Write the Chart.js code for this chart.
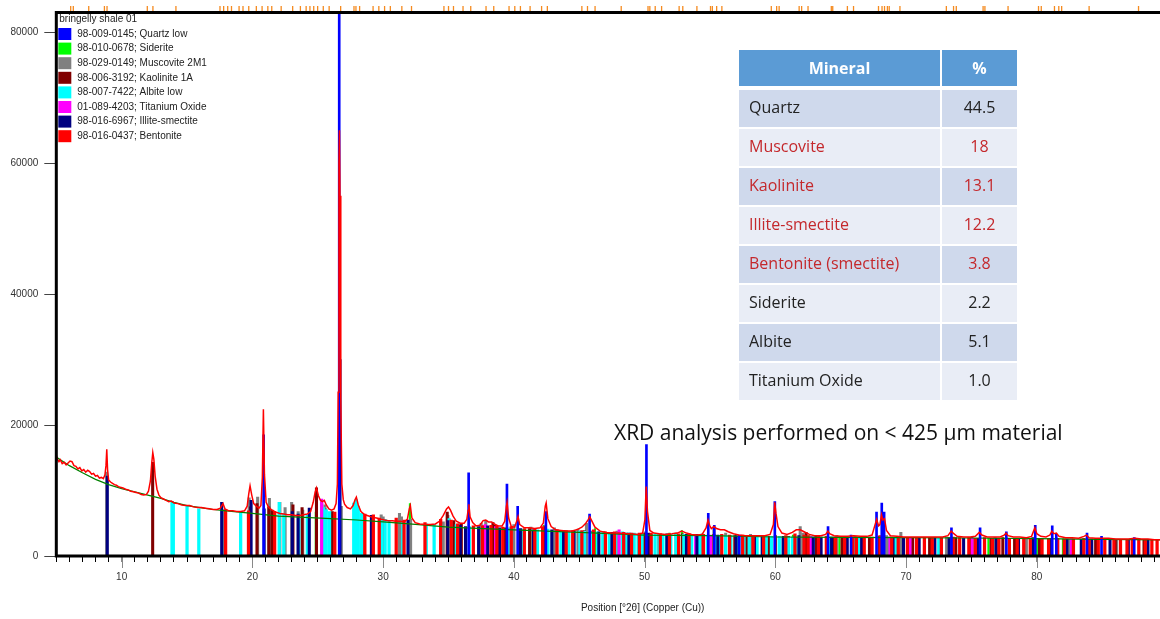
<!DOCTYPE html>
<html>
<head>
<meta charset="utf-8">
<script src="https://cdn.jsdelivr.net/npm/chart.js@4.4.1/dist/chart.umd.min.js"></script>
<style>
html,body{margin:0;padding:0;background:#fff;overflow:hidden;}
#wrap{position:relative;width:1160px;height:619px;overflow:hidden;}
#grafico{position:absolute;left:0;top:0;}
#tabela{position:absolute;left:739px;top:50px;border-collapse:separate;border-spacing:0;font-family:"Open Sans",sans-serif;font-size:16px;}
#tabela th{background:#5b9bd5;color:#fff;font-weight:bold;height:36px;padding:0;border-bottom:4px solid #fff;}
#tabela td{height:34px;padding:0 0 3px 0;border-bottom:2px solid #fff;color:#222;}
#tabela td.nome{width:191px;padding-left:10px;}
#tabela td.valor,#tabela th.valor{width:75px;text-align:center;border-left:2px solid #fff;}
#tabela tr.escuro td{background:#cfd9ec;}
#tabela tr.claro td{background:#e9edf6;}
#tabela td.destaque{color:#c4282c;}
#nota{position:absolute;left:614px;top:419px;font-family:"Open Sans",sans-serif;font-size:21px;color:#111;white-space:nowrap;line-height:26px;}
</style>
</head>
<body>
<div id="wrap">
<canvas id="grafico" width="1232" height="619"></canvas>
<table id="tabela">
<thead><tr><th>Mineral</th><th class="valor">%</th></tr></thead>
<tbody></tbody>
</table>
<div id="nota">XRD analysis performed on &lt; 425 μm material</div>
</div>
<script>
// eixos
const xMin = 5, xMax = 94.7, yMax = 83000;
const xLabels = [10,20,30,40,50,60,70,80,90];
const yTicks = [0,20000,40000,60000,80000];

// tabela de minerais
const minerais = ['Quartz','Muscovite','Kaolinite','Illite-smectite','Bentonite (smectite)','Siderite','Albite','Titanium Oxide'];
const percentuais = ['44.5','18','13.1','12.2','3.8','2.2','5.1','1.0'];
const destacados = [false,true,true,true,true,false,false,false];

// fases de referencia
const fases = ['98-009-0145; Quartz low','98-010-0678; Siderite','98-029-0149; Muscovite 2M1','98-006-3192; Kaolinite 1A','98-007-7422; Albite low','01-089-4203; Titanium Oxide','98-016-6967; Illite-smectite','98-016-0437; Bentonite'];
const coresFases = ['#0000ff','#00ff00','#808080','#800000','#00ffff','#ff00ff','#000080','#ff0000'];
const ordemFases = [1,9,8,7,6,5,4,3];
const espessura = [2,1.5,2.4,2.4,2.6,2.4,2.4,2.6];

// padrao medido [2theta, contagens]
const medido = [
[5.0,15400],[5.1,14700],[5.2,14400],[5.3,14700],[5.45,14100],[5.6,14300],[5.75,13900],[5.9,14200],[6.05,14500],[6.2,14400],[6.35,13800],[6.5,13700],[6.65,13300],[6.8,13500],[6.95,13000],[7.1,13200],[7.25,12800],[7.4,13100],[7.55,12900],[7.7,12500],[7.85,12600],[8.0,12200],[8.15,12300],[8.3,11900],[8.45,12000],[8.6,11800],[8.72,12400],[8.8,13800],[8.86,16300],[8.92,13200],[9.0,11600],[9.15,11300],[9.3,11100],[9.45,10900],[9.6,10800],[9.75,10600],[9.9,10500],[10.1,10400],[10.3,10200],[10.5,10100],[10.7,9900],[10.9,9800],[11.1,9700],[11.3,9600],[11.5,9400],[11.7,9300],[11.9,9400],[12.05,9900],[12.2,11500],[12.3,14200],[12.38,15800],[12.46,14800],[12.56,12200],[12.7,10200],[12.85,9300],[13.0,8900],[13.2,8700],[13.4,8500],[13.6,8300],[13.8,8400],[14.0,8100],[14.3,8000],[14.6,7800],[14.9,7700],[15.2,7700],[15.5,7500],[15.8,7400],[16.1,7400],[16.4,7300],[16.7,7200],[17.0,7100],[17.3,7100],[17.55,7300],[17.75,8000],[17.9,7200],[18.2,6900],[18.5,6900],[18.8,6800],[19.1,6800],[19.4,6900],[19.6,7600],[19.72,9500],[19.82,10700],[19.95,9300],[20.1,8000],[20.3,7600],[20.5,7300],[20.65,7700],[20.76,12000],[20.84,22400],[20.92,12500],[21.05,8200],[21.25,7400],[21.5,7000],[21.8,6700],[22.1,6500],[22.4,6400],[22.7,6300],[23.0,6300],[23.3,6200],[23.6,6200],[23.9,6300],[24.2,6400],[24.45,6800],[24.65,8200],[24.8,9800],[24.9,10400],[25.05,9200],[25.2,8500],[25.35,8300],[25.5,8500],[25.65,7800],[25.85,7200],[26.05,7000],[26.25,7200],[26.4,8000],[26.5,11000],[26.56,25000],[26.62,60000],[26.66,65000],[26.7,55000],[26.76,24000],[26.84,11000],[26.95,8600],[27.05,7900],[27.25,7400],[27.5,7200],[27.7,7700],[27.85,8600],[27.95,9000],[28.1,7800],[28.3,6800],[28.6,6300],[28.9,6100],[29.2,5900],[29.5,5800],[29.8,5600],[30.1,5500],[30.4,5400],[30.7,5400],[31.0,5300],[31.3,5300],[31.6,5200],[31.85,5600],[32.0,7200],[32.08,7700],[32.2,5800],[32.45,5100],[32.8,4900],[33.2,4800],[33.6,4800],[34.0,4900],[34.3,5300],[34.6,6200],[34.85,7200],[35.0,7500],[35.15,7000],[35.35,6100],[35.6,5300],[35.9,5000],[36.2,5000],[36.4,5600],[36.5,7000],[36.56,7900],[36.65,6000],[36.85,5100],[37.1,4600],[37.4,4700],[37.65,5400],[37.85,5500],[38.05,5200],[38.3,5200],[38.5,4900],[38.8,4600],[39.1,4600],[39.3,5300],[39.42,7500],[39.48,8200],[39.6,5800],[39.8,4500],[40.05,4400],[40.25,5500],[40.32,6000],[40.45,4800],[40.8,4300],[41.2,4300],[41.6,4200],[42.0,4300],[42.25,5000],[42.4,7600],[42.47,8100],[42.6,5700],[42.85,4500],[43.2,4000],[43.6,3900],[44.0,3800],[44.4,3800],[44.8,4000],[45.2,4400],[45.5,5000],[45.7,5600],[45.8,6000],[45.95,5400],[46.2,4400],[46.6,3800],[47.0,3600],[47.5,3500],[48.0,3500],[48.5,3400],[49.0,3400],[49.5,3300],[49.85,3500],[50.02,5500],[50.12,10600],[50.22,6800],[50.4,3900],[50.7,3500],[51.1,3400],[51.6,3300],[52.1,3400],[52.5,3500],[52.85,3800],[53.2,3500],[53.6,3300],[54.0,3200],[54.4,3300],[54.7,4300],[54.85,5500],[54.97,4700],[55.1,4200],[55.3,4500],[55.5,4200],[55.8,4000],[56.1,4000],[56.4,3700],[56.8,3400],[57.2,3200],[57.7,3100],[58.2,3100],[58.7,3100],[59.2,3100],[59.6,3300],[59.85,4800],[59.95,8200],[60.05,6500],[60.2,4500],[60.5,3500],[60.9,3300],[61.3,3600],[61.6,4000],[61.9,4000],[62.2,3700],[62.6,3300],[63.0,3100],[63.5,3100],[63.85,3300],[64.02,3800],[64.15,3400],[64.5,3100],[65.0,3000],[65.5,3000],[66.0,3100],[66.5,3000],[67.0,3000],[67.4,3200],[67.6,4600],[67.75,5600],[67.9,4600],[68.0,4800],[68.12,6300],[68.22,5500],[68.35,5700],[68.5,3900],[68.8,3100],[69.3,3000],[69.8,2900],[70.3,2900],[70.8,2900],[71.3,2900],[71.8,2900],[72.3,2900],[72.8,2900],[73.2,3100],[73.45,3800],[73.6,3500],[73.9,3000],[74.4,2900],[74.9,2900],[75.3,3000],[75.6,3600],[75.8,3200],[76.2,2900],[76.7,2900],[77.2,2900],[77.5,3200],[77.65,3500],[77.8,3100],[78.2,2900],[78.7,2900],[79.2,2800],[79.6,3000],[79.85,4300],[80.0,3400],[80.3,3000],[80.7,2900],[81.0,3200],[81.15,3800],[81.3,3400],[81.5,3500],[81.7,3000],[82.2,2800],[82.7,2800],[83.2,2700],[83.6,3000],[83.8,3200],[84.0,2800],[84.5,2700],[85.0,2700],[85.5,2700],[86.0,2600],[86.5,2600],[87.0,2600],[87.5,2700],[88.0,2600],[88.5,2600],[89.0,2500],[89.5,2500],[90.0,2500]
];

// fundo (linha verde)
const fundo = [[5,15100],[6,13800],[7,12700],[8,11700],[9,10900],[10,10300],[11,9800],[12,9300],[13,8800],[14,8200],[15,7700],[16,7400],[17,7100],[18,6900],[19,6700],[20,6500],[22,6100],[24,5900],[26,5700],[28,5500],[30,5200],[32,4900],[35,4400],[40,4000],[45,3600],[50,3200],[55,3100],[60,2900],[65,2850],[70,2800],[75,2750],[80,2650],[85,2550],[90,2450]];

// picos marcados no topo
const picosTopo = [6.1,6.3,7.48,8.68,8.88,11.96,12.39,14.15,17.52,17.8,18.11,18.4,18.98,19.28,19.72,20.3,20.74,21.18,21.48,22.2,23.08,23.67,24.11,24.4,24.69,24.99,25.42,25.87,26.75,27.77,27.92,28.2,29.23,29.67,30.11,30.55,31.43,32.17,34.65,35.0,35.38,36.11,36.7,37.87,38.46,39.63,40.07,40.5,41.24,42.12,42.56,45.2,45.63,46.21,48.21,50.26,50.4,50.81,51.3,52.64,52.92,54.0,55.04,55.18,55.51,55.91,59.69,60.1,60.29,61.82,62.01,62.5,64.28,64.39,65.51,65.98,67.89,68.16,68.35,68.57,68.71,69.53,73.08,73.63,73.84,75.89,76.03,77.8,80.13,80.34,81.35,81.68,81.9,84.0,87.78];

// linhas de referencia [2theta, altura]
const quartzo = [[20.86,18500],[26.64,90000],[36.54,12700],[39.47,11000],[40.29,7600],[42.45,6800],[45.79,6400],[50.14,17000],[54.87,6500],[55.33,4700],[57.24,3200],[59.96,8300],[64.03,4500],[65.79,3200],[67.74,6700],[68.14,8100],[68.32,6700],[73.47,4300],[75.66,4300],[77.67,3700],[79.88,4700],[81.18,4600],[81.49,3300],[83.84,3500],[84.95,3000],[87.45,2800]];
const siderita = [[24.85,6700],[32.05,8000],[38.35,4600],[42.3,4700],[46.2,4200],[51.9,3500],[52.85,3900],[53.6,3300],[61.35,3200],[62.6,3100],[64.9,3000],[68.7,2900],[70.5,2800],[76.3,2700],[80.0,2700],[82.0,2600],[88.5,2500]];
const muscovita = [[8.85,12800],[17.75,7100],[19.75,8900],[20.4,9000],[21.3,8800],[22.1,8200],[22.5,7400],[23.0,8200],[23.5,6800],[23.85,7000],[25.3,8500],[25.55,7800],[26.1,6700],[26.8,7600],[27.85,7500],[28.4,6300],[29.85,6300],[30.0,6000],[31.25,6500],[31.4,6000],[32.1,5600],[34.6,5200],[34.95,6200],[35.8,4900],[37.5,5000],[37.85,5400],[40.0,4800],[41.3,4400],[42.4,4700],[43.1,4300],[44.9,4100],[45.55,5000],[47.9,3800],[50.05,3700],[52.4,3500],[54.4,3400],[55.3,4400],[56.2,3500],[58.1,3300],[61.9,4500],[62.1,3500],[64.7,3100],[66.1,3000],[68.5,3100],[69.6,3600],[73.1,2900],[75.1,2800],[76.8,2800],[79.2,2700],[82.5,2600],[86.1,2500]];
const caulinita = [[12.37,14300],[19.85,7500],[20.35,8000],[21.25,7500],[21.5,7000],[23.1,7800],[23.8,7400],[24.9,10400],[25.55,7200],[26.1,6800],[34.9,6700],[35.4,5400],[35.98,4900],[37.7,4600],[38.4,5100],[38.55,4700],[39.3,4300],[41.2,4200],[42.4,4500],[45.4,3900],[45.9,3800],[46.9,3700],[48.6,3500],[50.0,3500],[51.1,3300],[52.9,3400],[54.1,3200],[55.3,3300],[56.9,3100],[57.8,3100],[59.5,3000],[60.0,3100],[61.0,3000],[62.35,3600],[63.1,3000],[64.5,2900],[65.1,2900],[67.2,2900],[70.5,2800],[71.8,2800],[73.8,2800],[75.0,2800],[76.5,2700],[77.4,2800],[78.3,2700],[80.2,2700],[82.7,2600],[84.5,2600],[86.0,2500],[88.2,2500]];
const albita = [[13.85,8300],[13.95,8200],[15.0,7700],[15.9,7200],[19.1,6600],[22.05,8200],[22.4,6400],[23.55,6400],[24.2,6200],[25.45,7400],[25.65,7100],[25.9,6800],[27.75,8100],[27.95,8600],[28.1,7600],[28.35,6500],[29.9,5500],[30.15,5600],[30.45,5400],[31.5,5200],[33.3,4900],[33.9,4800],[34.4,4800],[35.05,5700],[35.6,4800],[36.6,4500],[37.85,4400],[38.8,4200],[39.6,4300],[40.6,4100],[41.8,4000],[42.6,4100],[43.6,3900],[43.9,3900],[44.2,3800],[44.6,3800],[45.05,3800],[45.4,3800],[46.0,3700],[46.4,3700],[46.8,3600],[47.3,3600],[47.8,3600],[48.3,3700],[48.6,3500],[48.9,3500],[49.2,3500],[49.5,3400],[49.8,3400],[50.5,3300],[50.8,3300],[51.1,3300],[51.4,3300],[51.7,3300],[52.0,3300],[52.4,3300],[53.0,3300],[53.6,3200],[54.2,3200],[54.8,3200],[55.4,3100],[55.8,3100],[56.2,3100],[56.6,3100],[57.2,3000],[57.6,3000],[58.0,3000],[58.6,3000],[59.0,3000],[59.3,3000],[59.7,3000],[60.3,3000],[60.6,2900],[61.0,2900],[61.3,2900],[61.6,2900],[62.9,2900],[64.2,2900],[66.4,2800],[69.2,2800],[72.5,2700]];
const oxidoTitanio = [[25.3,8700],[37.8,4800],[38.6,4500],[48.05,4000],[53.9,3300],[55.05,3200],[62.7,3000],[68.75,2900],[70.3,2800],[75.05,2700],[82.65,2600]];
const ilitaEsmectita = [[8.9,12200],[17.65,8200],[19.9,8500],[20.9,7200],[23.05,6800],[23.5,6400],[24.35,7300],[26.7,30000],[29.1,6200],[31.9,5500],[34.95,5400],[35.9,4700],[36.3,4500],[37.3,4500],[38.0,4600],[38.9,4300],[40.5,4200],[41.5,4000],[42.9,4000],[43.8,3900],[44.6,3800],[46.5,3700],[47.5,3600],[48.8,3500],[50.3,3500],[51.7,3400],[53.2,3300],[54.0,3300],[55.6,3200],[57.0,3100],[58.4,3100],[59.0,3000],[60.6,3000],[61.8,3100],[62.9,2900],[63.5,2900],[64.3,2900],[65.5,2900],[66.6,2800],[67.95,3000],[69.0,2800],[69.8,2800],[71.0,2800],[72.2,2800],[73.3,2800],[74.4,2700],[75.5,2700],[76.9,2700],[78.6,2700],[79.7,2800],[81.0,2700],[82.3,2600],[83.4,2600],[84.2,2600],[85.6,2500],[87.0,2500],[88.5,2500]];
const bentonita = [[17.95,7100],[19.7,6900],[21.7,6800],[26.3,6700],[28.6,6400],[29.25,6300],[29.7,5800],[31.0,5800],[31.6,5500],[33.2,5100],[34.4,5600],[35.2,5500],[35.7,4900],[36.9,4600],[37.6,4600],[38.25,4700],[38.7,4600],[39.15,4400],[39.8,4500],[40.8,4200],[41.6,4200],[42.2,4500],[43.3,4000],[44.0,3900],[44.5,3900],[45.2,3900],[46.1,4000],[47.0,3700],[47.7,3700],[48.4,3600],[49.0,3500],[49.6,3500],[50.5,3500],[51.2,3400],[51.9,3400],[52.6,3400],[53.4,3400],[54.5,3300],[55.9,3300],[56.5,3200],[57.5,3200],[58.3,3100],[59.1,3100],[60.8,3100],[61.5,3400],[62.2,3200],[62.5,3100],[63.3,3000],[63.9,3000],[64.6,2900],[65.3,2900],[65.9,2900],[66.2,2900],[66.8,2900],[67.4,2900],[68.0,3100],[68.9,2900],[69.4,2800],[70.1,2800],[70.8,2800],[71.4,2800],[72.0,2800],[72.7,2800],[73.6,2900],[74.1,2800],[74.8,2800],[75.3,2700],[76.0,2800],[76.6,2700],[77.1,2700],[77.9,2700],[78.5,2700],[79.0,2700],[79.5,2700],[80.4,2700],[80.9,2700],[81.6,2700],[82.1,2600],[82.8,2600],[83.6,2700],[84.0,2600],[84.7,2600],[85.2,2600],[85.9,2600],[86.4,2500],[86.9,2500],[87.3,2500],[87.8,2500],[88.3,2500],[88.8,2500],[89.2,2500],[89.7,2500]];
const linhasFases = [quartzo,siderita,muscovita,caulinita,albita,oxidoTitanio,ilitaEsmectita,bentonita];

// monta a tabela
let corpo = document.querySelector("#tabela tbody");
minerais.forEach((m,i)=>{
let tr = document.createElement("tr");
tr.className = i%2==0 ? "escuro" : "claro";
let cls = destacados[i] ? " destaque" : "";
tr.innerHTML = `<td class="nome${cls}">${m}</td><td class="valor${cls}">${percentuais[i]}</td>`;
corpo.appendChild(tr);
});

const fonte = '"Liberation Sans", Arial, sans-serif';
let pontos = arr => arr.map(p=>({x:p[0], y:p[1]}));

let datasets = [
{type:'line', label:'scan', data:pontos(medido), borderColor:'#ff0000', borderWidth:1.5, pointRadius:0, tension:0, order:0},
{type:'line', label:'fundo', data:pontos(fundo), borderColor:'#008000', borderWidth:1.2, pointRadius:0, tension:0, order:2}
];
fases.forEach((nome,i)=>{
datasets.push({
type:'bar', label:nome, data:pontos(linhasFases[i]),
backgroundColor:coresFases[i], borderWidth:0,
barThickness:espessura[i], grouped:false, order:ordemFases[i]
});
});

const moldura = {
id:'moldura',
afterDraw(chart){
let {ctx, chartArea:a, scales:{x}} = chart;
ctx.save();
// marcas maiores no eixo x
ctx.strokeStyle = '#888'; ctx.lineWidth = 1;
xLabels.forEach(v=>{
let px = Math.round(x.getPixelForValue(v))+0.5;
ctx.beginPath(); ctx.moveTo(px, a.bottom); ctx.lineTo(px, a.bottom+12); ctx.stroke();
});
// picos no topo
ctx.strokeStyle = '#f58a1f'; ctx.lineWidth = 1.3;
picosTopo.forEach(v=>{
let px = x.getPixelForValue(v);
ctx.beginPath(); ctx.moveTo(px, 6); ctx.lineTo(px, a.top); ctx.stroke();
});
// moldura
ctx.strokeStyle = '#000'; ctx.lineWidth = 3;
ctx.strokeRect(a.left, a.top, a.right-a.left, a.bottom-a.top);
// legenda
ctx.font = '10px ' + fonte;
ctx.textBaseline = 'middle';
ctx.fillStyle = '#222';
ctx.fillText('bringelly shale 01', a.left+3, a.top+6.5);
fases.forEach((nome,i)=>{
let y = a.top + 21.5 + i*14.6;
ctx.fillStyle = coresFases[i];
ctx.fillRect(a.left+2, y-6, 13, 12);
ctx.fillStyle = '#222';
ctx.fillText(nome, a.left+21, y);
});
ctx.restore();
}
};

new Chart(document.getElementById("grafico"), {
type:'bar',
data:{datasets:datasets},
options:{
responsive:false,
animation:false,
devicePixelRatio:1,
layout:{padding:{left:4.5, top:12.5, right:3, bottom:3}},
plugins:{legend:{display:false}, tooltip:{enabled:false}},
scales:{
x:{
type:'linear', min:xMin, max:xMax, offset:false,
border:{display:false},
grid:{display:true, offset:false, drawOnChartArea:false, drawTicks:true, tickLength:6,
tickColor: c => (c.tick && c.tick.value % 10 === 0) ? '#888' : '#000'},
ticks:{stepSize:1, includeBounds:false, autoSkip:false, maxRotation:0, maxTicksLimit:200, padding:9,
color:'#333', font:{family:fonte, size:10},
callback: v => xLabels.includes(v) ? String(v) : ''},
title:{display:true, text:'Position [°2θ] (Copper (Cu))', color:'#222', font:{family:fonte, size:10}, padding:{top:10, bottom:2}}
},
y:{
min:0, max:yMax,
border:{display:false},
grid:{display:true, drawOnChartArea:false, drawTicks:true, tickLength:12, tickColor:'#444'},
afterBuildTicks: s => { s.ticks = yTicks.map(v=>({value:v})); },
ticks:{padding:6, color:'#333', font:{family:fonte, size:10}, callback: v => String(v)}
}
}
},
plugins:[moldura]
});
</script>
</body>
</html>
